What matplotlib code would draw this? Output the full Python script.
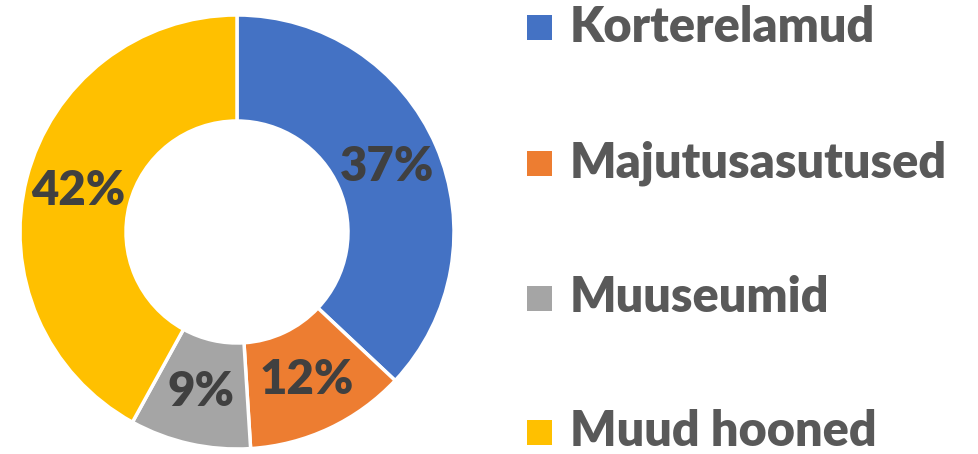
import matplotlib.pyplot as plt
from matplotlib.patches import Rectangle

# data
categories = ["Korterelamud", "Majutusasutused", "Muuseumid", "Muud hooned"]
shares = [37, 12, 9, 42]
colors = ["#4472C4", "#ED7D31", "#A5A5A5", "#FFC000"]

W, H = 979, 454
fig = plt.figure(figsize=(W / 100, H / 100), dpi=100)
ax = fig.add_axes([0, 0, 1, 1])

font = "Lato"
outer = 217
inner = 111
cx, cy = 237, H - 232

wedges, _, autotexts = ax.pie(
    shares, colors=colors, startangle=90, counterclock=False,
    center=(cx, cy), radius=outer, frame=True,
    wedgeprops=dict(width=outer - inner, edgecolor="white", linewidth=2.5),
    autopct="%1.0f%%", pctdistance=(outer + inner) / 2 / outer,
    textprops=dict(color="#404040", fontsize=34, fontweight="heavy", family=font),
)
ax.set_xlim(0, W)
ax.set_ylim(0, H)
ax.axis("off")

# legend drawn by hand to match the spacing
row_y = [H - 27, H - 163, H - 298, H - 432]
sq = 25
for lab, col, y in zip(categories, colors, row_y):
    ax.add_patch(Rectangle((527, y - sq / 2), sq, sq, facecolor=col, edgecolor="none"))
    ax.text(570, y, lab, va="center", ha="left", fontsize=35, fontweight="heavy",
            color="#595959", family=font)

fig.savefig("out.png", dpi=100)
